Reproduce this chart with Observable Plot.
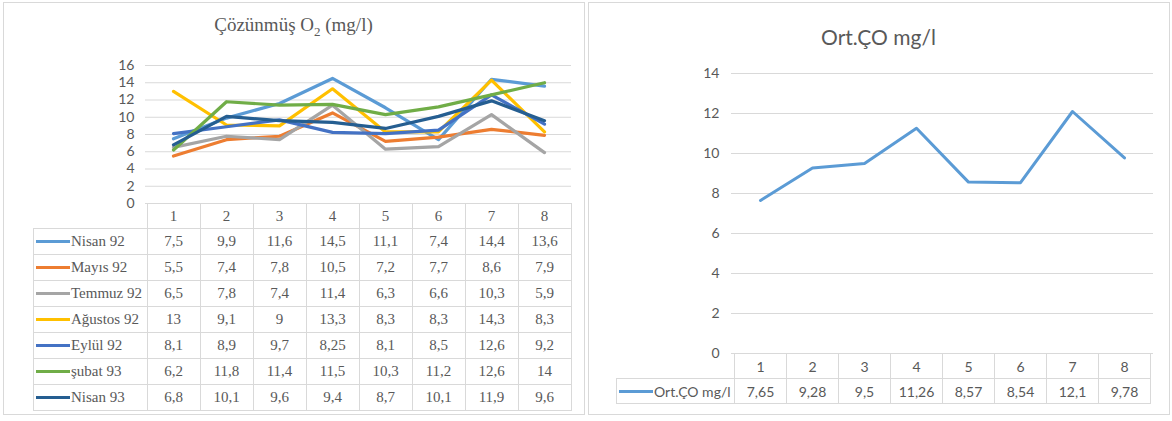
<!DOCTYPE html>
<html><head><meta charset="utf-8">
<script src="https://cdn.jsdelivr.net/npm/d3@7"></script>
<script src="https://cdn.jsdelivr.net/npm/@observablehq/plot@0.6"></script>
<style>
body{margin:0;background:#fff;width:1172px;height:421px;position:relative;overflow:hidden}
.panel{position:absolute;border:1px solid #d9d9d9;box-sizing:border-box}
.abs{position:absolute}
.abs svg{display:block}
table{border-collapse:collapse;position:absolute;table-layout:fixed}
td{border:1px solid #d9d9d9;text-align:center;color:#595959;padding:0;white-space:nowrap;overflow:hidden}
td.blank{border:none}
td.leg{text-align:left;padding-left:2px}
.sw{display:inline-block;width:34px;height:3px;vertical-align:middle;margin-right:1px;position:relative;top:-1px}
.title{position:absolute;text-align:center;color:#595959;white-space:nowrap}
</style></head><body>
<script>
const stations = [1, 2, 3, 4, 5, 6, 7, 8];
const seriesNames = ["Nisan 92", "Mayıs 92", "Temmuz 92", "Ağustos 92", "Eylül 92", "şubat 93", "Nisan 93"];
const nisan92   = [7.5, 9.9, 11.6, 14.5, 11.1, 7.4, 14.4, 13.6];
const mayis92   = [5.5, 7.4, 7.8, 10.5, 7.2, 7.7, 8.6, 7.9];
const temmuz92  = [6.5, 7.8, 7.4, 11.4, 6.3, 6.6, 10.3, 5.9];
const agustos92 = [13, 9.1, 9, 13.3, 8.3, 8.3, 14.3, 8.3];
const eylul92   = [8.1, 8.9, 9.7, 8.25, 8.1, 8.5, 12.6, 9.2];
const subat93   = [6.2, 11.8, 11.4, 11.5, 10.3, 11.2, 12.6, 14];
const nisan93   = [6.8, 10.1, 9.6, 9.4, 8.7, 10.1, 11.9, 9.6];
const seriesColors = ["#5B9BD5", "#ED7D31", "#A5A5A5", "#FFC000", "#4472C4", "#70AD47", "#255E91"];
const leftTicks = [0, 2, 4, 6, 8, 10, 12, 14, 16];

const avgName = "Ort.ÇO mg/l";
const avgValues = [7.65, 9.28, 9.5, 11.26, 8.57, 8.54, 12.1, 9.78];
const avgColor = "#5B9BD5";
const rightTicks = [0, 2, 4, 6, 8, 10, 12, 14];

const seriesValues = [nisan92, mayis92, temmuz92, agustos92, eylul92, subat93, nisan93];
const fmt = v => String(v).replace(".", ",");

function place(el, left, top) {
  const d = document.createElement("div");
  d.className = "abs";
  d.style.left = left + "px"; d.style.top = top + "px";
  d.appendChild(el);
  document.body.appendChild(d);
  return d;
}
function panel(left, top, w, h) {
  const d = document.createElement("div");
  d.className = "panel";
  Object.assign(d.style, {left: left + "px", top: top + "px", width: w + "px", height: h + "px"});
  document.body.appendChild(d);
}
function title(html, left, top, w, font, size) {
  const d = document.createElement("div");
  d.className = "title";
  d.innerHTML = html;
  Object.assign(d.style, {left: left + "px", top: top + "px", width: w + "px", fontFamily: font, fontSize: size + "px"});
  document.body.appendChild(d);
}
function table(left, top, firstW, colW, names, colors, values, font, size, headH, rowH) {
  const t = document.createElement("table");
  t.style.left = left + "px"; t.style.top = top + "px";
  t.style.fontFamily = font; t.style.fontSize = size + "px";
  const cg = document.createElement("colgroup");
  [firstW, ...stations.map(() => colW)].forEach(w => { const c = document.createElement("col"); c.style.width = w + "px"; cg.appendChild(c); });
  t.appendChild(cg);
  t.style.width = (firstW + colW * stations.length) + "px";
  const hr = t.insertRow(); hr.style.height = headH + "px";
  const b = hr.insertCell(); b.className = "blank";
  stations.forEach(s => { hr.insertCell().textContent = s; });
  names.forEach((n, i) => {
    const r = t.insertRow(); r.style.height = rowH + "px";
    const c = r.insertCell(); c.className = "leg";
    c.innerHTML = `<span class="sw" style="background:${colors[i]}"></span>${n}`;
    values[i].forEach(v => { r.insertCell().textContent = fmt(v); });
  });
  document.body.appendChild(t);
}

panel(3, 2, 582, 413);
panel(588, 2, 582, 413);

// Left chart
const leftData = seriesNames.flatMap((n, i) => stations.map((s, j) => ({series: n, station: s, value: seriesValues[i][j]})));
const left = Plot.plot({
  width: 584, height: 215,
  marginLeft: 145, marginRight: 13, marginTop: 65, marginBottom: 12,
  style: {fontFamily: "Lato", fontSize: "14px", color: "#595959", background: "transparent"},
  x: {type: "point", domain: stations, padding: 0.5, axis: null},
  y: {domain: [0, 16], axis: null},
  color: {domain: seriesNames, range: seriesColors},
  marks: [
    Plot.gridY(leftTicks, {stroke: "#d9d9d9", strokeOpacity: 1, strokeWidth: 1}),
    Plot.axisY(leftTicks, {tickSize: 0, tickPadding: 11, fill: "#595959", label: null}),
    Plot.line(leftData, {x: "station", y: "value", z: "series", stroke: "series", strokeWidth: 3.2, strokeLinejoin: "round", strokeLinecap: "round"})
  ]
});
place(left, 0, 0);
const lx = left.scale("x");
const lStep = lx.step;
const lStart = lx.apply(stations[0]) - lStep / 2;
title("Çözünmüş O<sub style='font-size:13px'>2</sub> (mg/l)", 3, 14, 581, "Liberation Serif", 19);
table(33, 203, lStart - 33, lStep, seriesNames, seriesColors, seriesValues, "Liberation Serif", 15, 25, 26);

// Right chart
const rightData = stations.map((s, j) => ({station: s, value: avgValues[j]}));
const right = Plot.plot({
  width: 584, height: 360,
  marginLeft: 143, marginRight: 19, marginTop: 73, marginBottom: 7,
  style: {fontFamily: "Lato", fontSize: "14px", color: "#595959", background: "transparent"},
  x: {type: "point", domain: stations, padding: 0.5, axis: null},
  y: {domain: [0, 14], axis: null},
  marks: [
    Plot.gridY(rightTicks, {stroke: "#d9d9d9", strokeOpacity: 1, strokeWidth: 1}),
    Plot.axisY(rightTicks, {tickSize: 0, tickPadding: 12, fill: "#595959", label: null}),
    Plot.line(rightData, {x: "station", y: "value", stroke: avgColor, strokeWidth: 3, strokeLinejoin: "round", strokeLinecap: "round"})
  ]
});
place(right, 588, 0);
const rx = right.scale("x");
const rStep = rx.step;
const rStart = 588 + rx.apply(stations[0]) - rStep / 2;
title(avgName, 588, 24, 581, "Lato", 21);
table(616, 353, rStart - 616, rStep, [avgName], [avgColor], [avgValues], "Lato", 14, 25, 25);
</script>
</body></html>
